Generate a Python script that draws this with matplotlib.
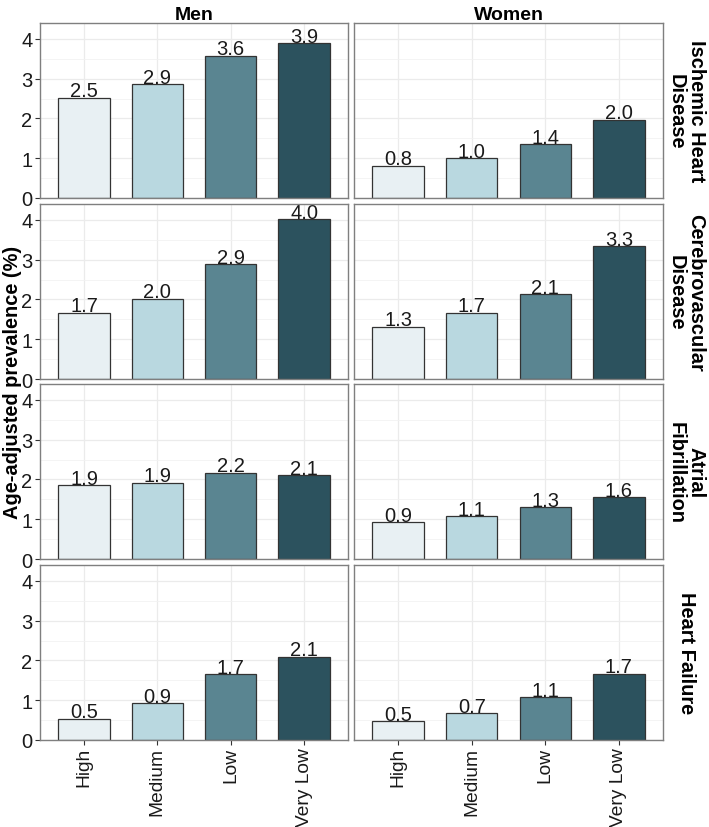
import numpy as np
import matplotlib
matplotlib.use("Agg")
import matplotlib.pyplot as plt
from matplotlib.ticker import MultipleLocator

plt.rcParams['font.family'] = ['Liberation Sans', 'DejaVu Sans']

# data
categories = ['High', 'Medium', 'Low', 'Very Low']
sexes = ['Men', 'Women']
diseases = ['Ischemic Heart\nDisease', 'Cerebrovascular\nDisease',
            'Atrial\nFibrillation', 'Heart Failure']

men_ihd = [2.52, 2.86, 3.58, 3.89]
women_ihd = [0.81, 1.00, 1.36, 1.97]
men_cvd = [1.67, 2.02, 2.88, 4.02]
women_cvd = [1.32, 1.67, 2.13, 3.34]
men_af = [1.86, 1.92, 2.17, 2.10]
women_af = [0.92, 1.08, 1.30, 1.56]
men_hf = [0.54, 0.92, 1.66, 2.09]
women_hf = [0.48, 0.67, 1.07, 1.67]

values = [[men_ihd, women_ihd],
          [men_cvd, women_cvd],
          [men_af, women_af],
          [men_hf, women_hf]]

colors = ['#E8F0F3', '#B9D8E0', '#5A8591', '#2C525E']

W, H = 709, 828
fig = plt.figure(figsize=(W / 100, H / 100), dpi=100)

col_x = [40, 354]
col_w = [308, 309]
row_top = [24, 205, 385, 566]
row_h = 175

x = np.arange(1, len(categories) + 1)
fs = 14.5

for r in range(4):
    for c in range(2):
        ax = fig.add_axes([col_x[c] / W, 1 - (row_top[r] + row_h) / H,
                           col_w[c] / W, row_h / H])
        vals = values[r][c]
        ax.bar(x, vals, width=0.7, color=colors, edgecolor='#333333',
               linewidth=0.9, zorder=3)
        for xi, v in zip(x, vals):
            ax.annotate(f'{v:.1f}', (xi, v), xytext=(0, 1.0),
                        textcoords='offset points', ha='center',
                        va='baseline', fontsize=fs, color='#1a1a1a',
                        zorder=4)
        ax.set_xlim(0.4, 4.6)
        ax.set_ylim(0, 4.4)
        ax.yaxis.set_major_locator(MultipleLocator(1))
        ax.yaxis.set_minor_locator(MultipleLocator(0.5))
        ax.set_xticks(x)
        ax.grid(True, which='major', color='#EBEBEB', linewidth=0.9, zorder=0)
        ax.grid(True, which='minor', axis='y', color='#F2F2F2',
                linewidth=0.6, zorder=0)
        for s in ax.spines.values():
            s.set_color('#7F7F7F')
            s.set_linewidth(1.0)
            s.set_zorder(5)
        ax.tick_params(which='minor', length=0)
        ax.tick_params(which='major', length=3.5, width=0.8, color='#333333',
                       labelsize=fs, labelcolor='#1a1a1a', pad=2)
        if c == 0:
            ax.set_yticks([0, 1, 2, 3, 4])
        else:
            ax.tick_params(axis='y', length=0, labelleft=False)
        if r == 3:
            ax.set_xticklabels(categories, rotation=90)
            ax.tick_params(axis='x', labelsize=13.8, pad=1.5)
        else:
            ax.tick_params(axis='x', length=0, labelbottom=False)
        if r == 0:
            ax.set_title(sexes[c], fontsize=14, fontweight='bold', pad=3)
        if c == 1:
            ax.text(1.075, 0.5, diseases[r], transform=ax.transAxes,
                    rotation=-90, ha='center', va='center', fontsize=14.4,
                    fontweight='bold', linespacing=1.05)

fig.text(13 / W, 1 - 382 / H, 'Age-adjusted prevalence (%)', rotation=90,
         ha='center', va='center', fontsize=14.4, fontweight='bold')

fig.savefig('out.png', dpi=100)
